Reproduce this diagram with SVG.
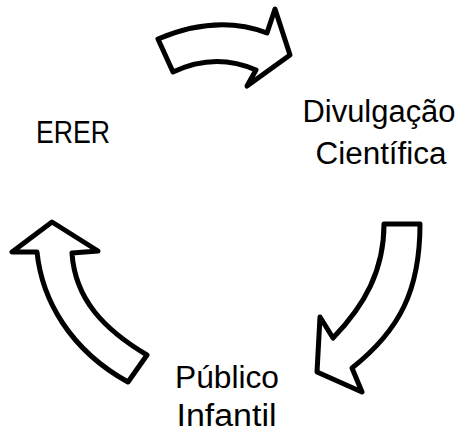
<svg xmlns="http://www.w3.org/2000/svg" width="465" height="433" viewBox="0 0 465 433">
<style>
.arrow{fill:#fff;stroke:#000;stroke-width:5;stroke-linejoin:round}
.lbl{font-family:"Liberation Sans",Arial,sans-serif;font-size:31px;fill:#000;text-anchor:middle}
</style>
<rect width="465" height="433" fill="#fff"/>
<g id="connectors">
<path class="arrow" d="M158,39 Q217,14 267,33 L275,9 L290,55 L247,86 L256,70 Q215,52 173,72 Z"/>
<path class="arrow" d="M384,224 L420,224 C420,290 400,330 352,368 L362,392 L317,372 L320,317 L333,338 C365,305 384,270 384,224 Z"/>
<path class="arrow" d="M52,222 L12,252 L37,252 C42,300 70,350 128,382 L147,355 C105,330 75,300 72,253 L98,251 Z"/>
</g>
<g id="node-erer"><text class="lbl" x="73" y="143" textLength="74" lengthAdjust="spacingAndGlyphs">ERER</text></g>
<g id="node-divulgacao"><text class="lbl" x="379" y="122" textLength="153" lengthAdjust="spacingAndGlyphs">Divulgação</text><text class="lbl" x="381" y="164" textLength="131" lengthAdjust="spacingAndGlyphs">Científica</text></g>
<g id="node-publico"><text class="lbl" x="227" y="388" textLength="104" lengthAdjust="spacingAndGlyphs">Público</text><text class="lbl" x="226.5" y="426" textLength="100" lengthAdjust="spacingAndGlyphs">Infantil</text></g>
</svg>
